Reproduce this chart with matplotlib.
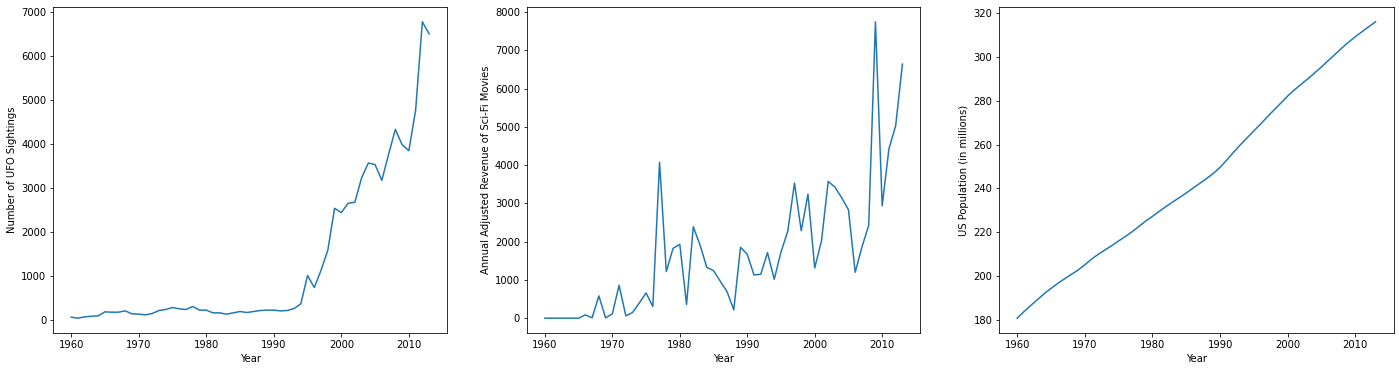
import numpy as np
import matplotlib
matplotlib.use('Agg')
from matplotlib import pyplot as plt

# years shared by all three panels
years = list(range(1960, 2014))

# number of UFO sightings per year
ufo_sightings = [68, 45, 75, 90, 98, 189, 181, 181, 211, 143,
                 136, 121, 151, 219, 242, 287, 257, 242, 310, 227,
                 227, 166, 166, 136, 166, 196, 174, 196, 219, 227,
                 227, 211, 219, 264, 370, 1012, 740, 1133, 1586, 2538,
                 2440, 2651, 2674, 3225, 3565, 3527, 3172, 3761, 4328, 3980,
                 3844, 4758, 6767, 6495]

# annual adjusted revenue of sci-fi movies
scifi_revenue = [0, 0, 0, 0, 0, 0, 87, 10, 583, 9,
                 113, 861, 61, 148, 400, 661, 304, 4078, 1217, 1826,
                 1930, 357, 2391, 1913, 1330, 1243, 965, 696, 217, 1852,
                 1670, 1130, 1148, 1713, 1017, 1730, 2270, 3530, 2287, 3243,
                 1313, 2017, 3574, 3426, 3148, 2835, 1200, 1861, 2426, 7748,
                 2939, 4426, 5035, 6643]

# US population in millions
us_population = [180.7, 183.7, 186.5, 189.2, 191.9, 194.3, 196.6, 198.7, 200.7, 202.7,
                  205.1, 207.7, 209.9, 211.9, 213.9, 216.0, 218.0, 220.2, 222.6, 225.1,
                  227.2, 229.5, 231.7, 233.8, 235.8, 237.9, 240.1, 242.3, 244.5, 246.8,
                  249.6, 253.0, 256.5, 259.9, 263.1, 266.3, 269.4, 272.7, 275.9, 279.0,
                  282.2, 285.0, 287.6, 290.1, 292.8, 295.5, 298.4, 301.2, 304.1, 306.8,
                  309.3, 311.6, 313.9, 316.1]

dpi = 72  # notebook-style inline size
fig = plt.figure(figsize=(1399 / dpi, 371 / dpi), dpi=dpi)

bottom = 38 / 371
height = (333.3 - 7.3) / 371
ax1 = fig.add_axes([53.3 / 1399, bottom, (447.0 - 53.3) / 1399, height])
ax2 = fig.add_axes([527.0 / 1399, bottom, (920.3 - 527.0) / 1399, height])
ax3 = fig.add_axes([999.3 / 1399, bottom, (1393.5 - 999.3) / 1399, height])

ax1.plot(years, ufo_sightings)
ax1.set_xlabel('Year')
ax1.set_ylabel('Number of UFO Sightings')

ax2.plot(years, scifi_revenue)
ax2.set_xlabel('Year')
ax2.set_ylabel('Annual Adjusted Revenue of Sci-Fi Movies')

ax3.plot(years, us_population)
ax3.set_xlabel('Year')
ax3.set_ylabel('US Population (in millions)')

fig.savefig('out.png', dpi=dpi)
